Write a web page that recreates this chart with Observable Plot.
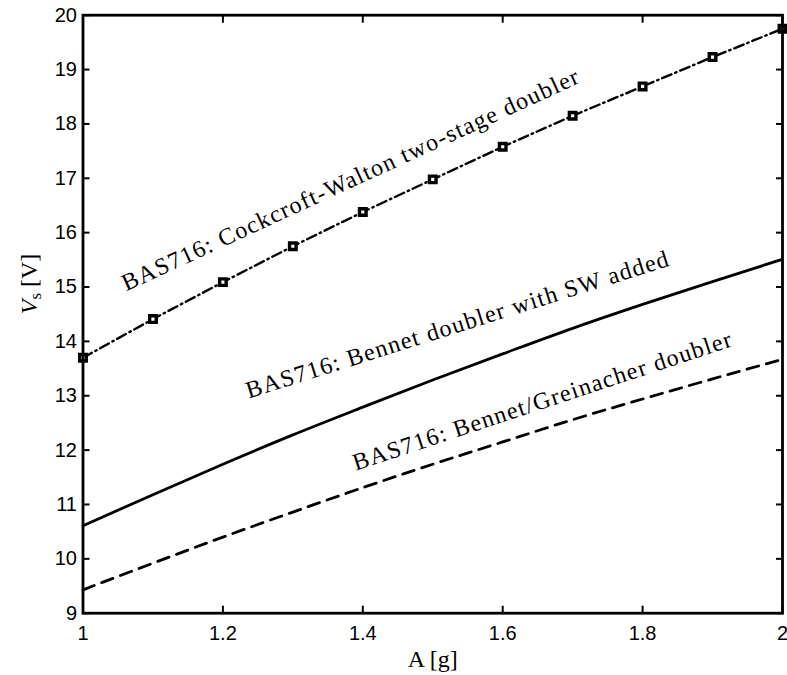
<!DOCTYPE html>
<html><head><meta charset="utf-8">
<script src="https://cdn.jsdelivr.net/npm/d3@7"></script>
<script src="https://cdn.jsdelivr.net/npm/@observablehq/plot@0.6"></script>
<style>
body{margin:0;background:#fff;}
</style></head><body><div id="chart"></div>
<script>
const xValues = [1.0, 1.1, 1.2, 1.3, 1.4, 1.5, 1.6, 1.7, 1.8, 1.9, 2.0];
const cockcroftWalton = [13.70, 14.41, 15.09, 15.75, 16.38, 16.98, 17.58, 18.15, 18.69, 19.23, 19.75];
const bennetSW = [10.61, 11.18, 11.74, 12.28, 12.79, 13.29, 13.77, 14.24, 14.68, 15.10, 15.51];
const bennetGreinacher = [9.43, 9.92, 10.40, 10.86, 11.31, 11.74, 12.15, 12.56, 12.94, 13.31, 13.67];

const xTicks = [1, 1.2, 1.4, 1.6, 1.8, 2];
const xTickLabels = ["1", "1.2", "1.4", "1.6", "1.8", "2"];
const yTicks = [9, 10, 11, 12, 13, 14, 15, 16, 17, 18, 19, 20];
const yTickLabels = ["9", "10", "11", "12", "13", "14", "15", "16", "17", "18", "19", "20"];

const labelTexts = ["BAS716: Cockcroft-Walton two-stage doubler", "BAS716: Bennet doubler with SW added", "BAS716: Bennet/Greinacher doubler"];
const labelX = [1.062, 1.237, 1.390];
const labelY = [14.92, 12.95, 11.62];
const labelAngle = [-24.7, -17.5, -18.3];

const xAxisLabel = "A [g]";
const yAxisParts = ["V", "s", " [V]"];

const cw = xValues.map((x, i) => ({x, y: cockcroftWalton[i]}));
const sw = xValues.map((x, i) => ({x, y: bennetSW[i]}));
const bg = xValues.map((x, i) => ({x, y: bennetGreinacher[i]}));
const labels = labelTexts.map((t, i) => ({text: t, x: labelX[i], y: labelY[i], angle: labelAngle[i]}));

const chart = Plot.plot({
  width: 787, height: 675,
  marginLeft: 82.5, marginRight: 5, marginTop: 14.7, marginBottom: 62.3,
  x: {domain: [1, 2]},
  y: {domain: [9, 20]},
  style: {background: "white", color: "black"},
  marks: [
    Plot.line(bg, {x: "x", y: "y", stroke: "black", strokeWidth: 2.8, strokeDasharray: "12,8", curve: "monotone-x"}),
    Plot.line(sw, {x: "x", y: "y", stroke: "black", strokeWidth: 2.8, curve: "monotone-x"}),
    Plot.line(cw, {x: "x", y: "y", stroke: "black", strokeWidth: 2.4, strokeDasharray: "10,4,1.5,4"}),
    Plot.dot(cw, {x: "x", y: "y", symbol: "square", r: 3.7, stroke: "black", strokeWidth: 3.4, fill: "white"}),
    Plot.text(labels, {x: "x", y: "y", text: "text", rotate: "angle", textAnchor: "start", lineAnchor: "bottom",
      fontFamily: "Liberation Serif", fontSize: 24, fill: "black"}),
    Plot.axisX({ticks: xTicks, tickSize: -7, fill: "none", strokeWidth: 2, label: null}),
    Plot.axisX({ticks: xTicks, anchor: "top", tickSize: -7, fill: "none", strokeWidth: 2, label: null}),
    Plot.axisX({ticks: xTicks, tickSize: 0, tickPadding: 13, tickFormat: d => xTickLabels[xTicks.indexOf(d)],
      fontSize: 20, fontFamily: "Liberation Sans", fill: "black", label: null}),
    Plot.axisY({ticks: yTicks, tickSize: -7, fill: "none", strokeWidth: 2, label: null}),
    Plot.axisY({ticks: yTicks, anchor: "right", tickSize: -7, fill: "none", strokeWidth: 2, label: null}),
    Plot.axisY({ticks: yTicks, tickSize: 0, tickPadding: 6, tickFormat: d => yTickLabels[yTicks.indexOf(d)],
      fontSize: 20, fontFamily: "Liberation Sans", fill: "black", label: null}),
    Plot.frame({stroke: "black", strokeWidth: 2.8}),
    Plot.text([xAxisLabel], {frameAnchor: "bottom", dy: 54, text: d => d, lineAnchor: "bottom",
      fontFamily: "Liberation Serif", fontSize: 24, fill: "black"}),
    Plot.text([yAxisParts.join("")], {frameAnchor: "left", dx: -46, rotate: -90, text: d => d, lineAnchor: "bottom",
      fontFamily: "Liberation Serif", fontSize: 24, fill: "black"})
  ]
});

const textGroups = d3.select(chart).selectAll('g[aria-label="text"]').nodes();
// curve labels: widen spacing like Computer Modern
d3.select(textGroups[0]).selectAll("text").attr("letter-spacing", "1.3px");
// y label with italic V and subscript s
const yl = d3.select(textGroups[2]).select("text");
yl.text(null);
yl.append("tspan").attr("font-style", "italic").text(yAxisParts[0]);
yl.append("tspan").attr("font-size", "0.7em").attr("dy", "0.25em").text(yAxisParts[1]);
yl.append("tspan").attr("dy", "-0.18em").text(yAxisParts[2]);

document.getElementById("chart").appendChild(chart);
</script></body></html>
